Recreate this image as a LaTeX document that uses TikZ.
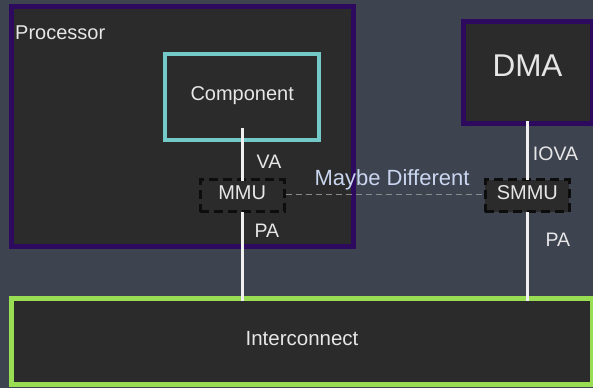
\documentclass[tikz,border=0pt]{standalone}
\usepackage{fontspec}
\setmainfont{Liberation Sans}
\definecolor{bgc}{HTML}{3E4350}
\definecolor{boxfill}{HTML}{2B2B2B}
\definecolor{purp}{HTML}{2E0A5E}
\definecolor{cyanb}{HTML}{72C9C8}
\definecolor{greenb}{HTML}{98DD52}
\definecolor{txt}{HTML}{E6E6E6}
\definecolor{maybe}{HTML}{CAD6F0}
\definecolor{dgray}{HTML}{8A8A8A}
\begin{document}
\begin{tikzpicture}[x=1pt,y=-1pt,
  box/.style={rectangle,draw,fill=boxfill,inner sep=0pt,outer sep=0pt,text=txt,
    font=\fontsize{20}{24}\selectfont,text height=0.72em,text depth=0pt},
  purpbox/.style={box,draw=purp,line width=5pt},
  dashbox/.style={box,draw=black!95,line width=3pt,dash pattern=on 9pt off 5pt},
  lbl/.style={text=txt,font=\fontsize{19.5}{23}\selectfont,inner sep=0pt,anchor=base},
  wire/.style={draw=white!94!black,line width=3pt}]
\fill[bgc] (0,0) rectangle (593,388);
\useasboundingbox (0,0) rectangle (593,388);
% Processor
\node[purpbox,minimum width=342pt,minimum height=240pt] (proc) at (182.5,126.5) {};
\node[lbl,anchor=base west,font=\fontsize{20}{24}\selectfont] (proclbl) at (15,39) {Processor};
% Component
\node[box,draw=cyanb,line width=4.5pt,minimum width=154pt,minimum height=85.6pt] (comp) at (242.2,97) {Component};
% DMA
\node[purpbox,minimum width=129pt,minimum height=102.3pt,font=\fontsize{31.5}{36}\selectfont] (dma) at (527.5,72.8) {DMA};
% Interconnect
\node[box,draw=greenb,line width=5pt,minimum width=581pt,minimum height=86pt,font=\fontsize{20.5}{24}\selectfont] (ic) at (302,341.5) {Interconnect};
% MMU / SMMU
\coordinate (vatop) at (242.2,128);
\draw[wire] (vatop) -- (242.2,180);
\node[dashbox,minimum width=84pt,minimum height=32pt] (mmu) at (242.2,195.8) {MMU};
\node[dashbox,minimum width=83.7pt,minimum height=32pt] (smmu) at (527.3,195.8) {SMMU};
% connectors
\draw[wire] (mmu.south) -- ([yshift=-2.5pt]mmu.south |- ic.north);
\draw[wire] (smmu.north) -- ([yshift=2.5pt]smmu.north |- dma.south);
\draw[wire] (smmu.south) -- ([yshift=-2.5pt]smmu.south |- ic.north);
\draw[wire] (vatop) -- ([yshift=-1.5pt]mmu.north);
\draw[draw=dgray,line width=1.1pt,dash pattern=on 6pt off 4pt] ([xshift=1.5pt,yshift=1pt]mmu.east) -- ([xshift=-1.5pt,yshift=1pt]smmu.west);
% labels
\node[lbl] (va) at (269,168) {VA};
\node[lbl] (pa1) at (266.8,237) {PA};
\node[lbl] (iova) at (555.5,160) {IOVA};
\node[lbl] (pa2) at (557.8,246.5) {PA};
\node[lbl,text=maybe,font=\fontsize{22}{26}\selectfont] (maybe) at (392,185) {Maybe Different};
\end{tikzpicture}
\end{document}
